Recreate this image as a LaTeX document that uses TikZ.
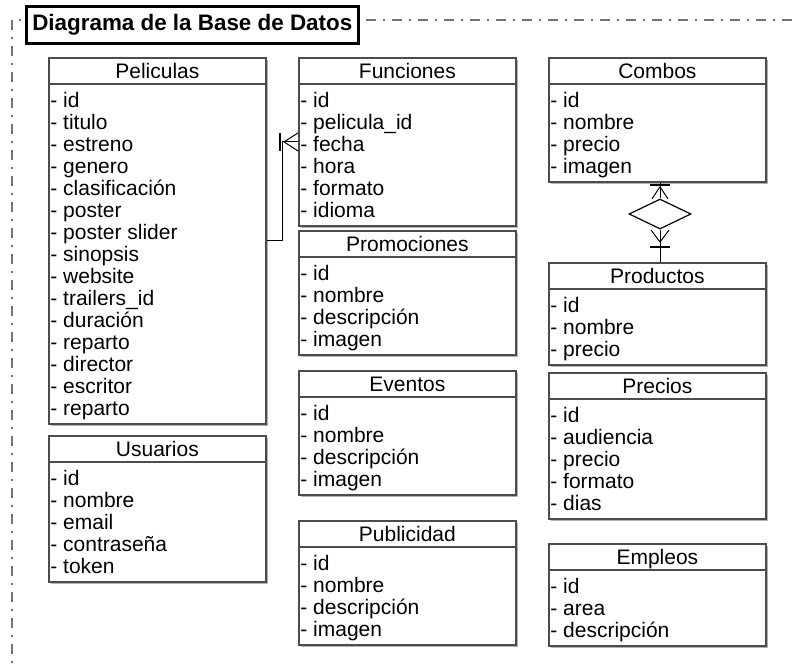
\documentclass[tikz,border=0pt]{standalone}
\usepackage{fontspec}
\setmainfont{Liberation Sans}
\usepackage{tikz}
\usetikzlibrary{calc}
\usetikzlibrary{shapes.geometric}
\usetikzlibrary{shadows}
\newcommand{\anchotabla}{108.5pt}
\tikzset{
    tabla/.style={anchor=north west, draw=black!70, line width=0.9pt, fill=white, inner sep=0pt, minimum width=\anchotabla,
        drop shadow={shadow xshift=0.8pt, shadow yshift=-0.8pt, fill=black!30, opacity=1}},
    tabla-linea/.style={draw=black!70, line width=0.9pt},
    cabecera/.style={anchor=base, inner sep=0pt},
    campo/.style={anchor=base west, inner sep=0pt},
    titulo/.style={anchor=north west, draw, line width=1.3pt, fill=white, inner sep=0pt,
        font=\fontsize{11.2pt}{13pt}\selectfont\bfseries, minimum width=166pt, minimum height=18.5pt},
    marco/.style={draw=black!55, line width=1pt, dash pattern=on 5pt off 3.5pt on 1pt off 3.5pt},
    conector/.style={draw, line width=0.5pt},
    barra/.style={draw, line width=1pt},
    rombo/.style={draw, shape=diamond, line width=0.6pt, inner sep=0pt, minimum width=31pt, minimum height=15pt}
}
% #1 nombre, #2 x, #3 arriba, #4 numero de campos, #5 cabecera, #6 campos
\newcommand{\tabla}[6]{%
    \node[tabla, minimum height={(36+22*#4)*0.5pt}] (#1) at (#2,#3) {};
    \draw[tabla-linea] (#1.north west) ++(0,27) -- ++(217,0);
    \path (#1.north) ++(0,21) node[cabecera] (#1-nombre) {#5};
    \foreach \campo [count=\i] in {#6}
        \path (#1.north west) ++(2,{28+22*\i}) node[campo] (#1-\i) {- \campo};
}

\begin{document}
\begin{tikzpicture}[x=0.5pt, y=-0.5pt, font=\fontsize{10.5pt}{12pt}\selectfont]
    \useasboundingbox (0,0) rectangle (792,665);

    \draw[marco] (792,20) -- (12,20) -- (12,665);
    \node[titulo] (diagrama) at (25,5) {Diagrama de la Base de Datos\hspace{6pt}};

    \tabla{peliculas}{48}{57}{15}{Peliculas}{id, titulo, estreno, genero, clasificación, poster, poster slider, sinopsis, website, trailers\_id, duración, reparto, director, escritor, reparto}
    \tabla{usuarios}{48}{435}{5}{Usuarios}{id, nombre, email, contraseña, token}

    \tabla{funciones}{298}{57}{6}{Funciones}{id, pelicula\_id, fecha, hora, formato, idioma}
    \tabla{promociones}{298}{230}{4}{Promociones}{id, nombre, descripción, imagen}
    \tabla{eventos}{298}{370}{4}{Eventos}{id, nombre, descripción, imagen}
    \tabla{publicidad}{298}{520}{4}{Publicidad}{id, nombre, descripción, imagen}

    \tabla{combos}{548}{57}{4}{Combos}{id, nombre, precio, imagen}
    \tabla{productos}{548}{262}{3}{Productos}{id, nombre, precio}
    \tabla{precios}{548}{372}{5}{Precios}{id, audiencia, precio, formato, dias}
    \tabla{empleos}{548}{543}{3}{Empleos}{id, area, descripción}

    % peliculas - funciones
    \draw[conector] (peliculas.east) -- ++(16,0) |- (funciones.west);
    \draw[conector] (funciones.west) ++(-14,0) -- ++(14,-9) ++(-14,9) -- ++(14,9);
    \draw[barra] (funciones.west) ++(-18,-9) -- ++(0,18);

    % combos - productos
    \node[rombo] (contiene) at (660,214) {};
    \coordinate (pata-combos) at (contiene.north |- combos.south);
    \coordinate (pata-productos) at (contiene.south |- productos.north);
    \draw[conector] (contiene.north) -- (pata-combos);
    \draw[conector] (contiene.south) -- (pata-productos);
    \draw[conector] (pata-combos) ++(0,4) -- ++(-8,12) ++(8,-12) -- ++(8,12);
    \draw[barra] (pata-combos) ++(-10,2) -- ++(20,0);
    \draw[conector] (pata-productos) ++(0,-20) -- ++(-9,-12) ++(9,12) -- ++(9,-12);
    \draw[barra] (pata-productos) ++(-10,-15) -- ++(20,0);
\end{tikzpicture}
\end{document}
